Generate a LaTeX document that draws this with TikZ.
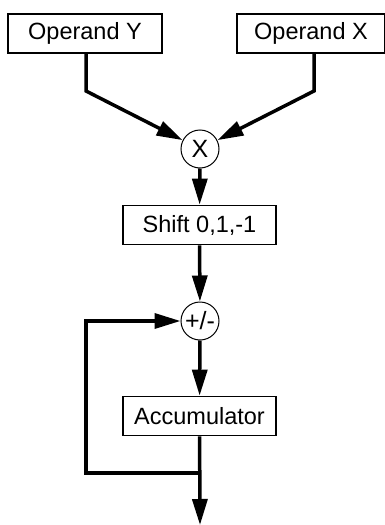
\documentclass[tikz,border=0pt]{standalone}
\usepackage{fontspec}
\setmainfont{Liberation Sans}
\usetikzlibrary{arrows.meta}
\begin{document}
\begin{tikzpicture}[x=1pt,y=-1pt,
  blk/.style={draw,line width=1.8pt,minimum height=39pt,inner sep=0pt,font=\fontsize{23.5}{27}\selectfont},
  op/.style={draw,circle,line width=1pt,minimum size=38pt,inner sep=0pt,font=\fontsize{25}{28}\selectfont},
  wire/.style={line width=3.5pt},
  arr/.style={wire,-{Triangle[length=26pt,width=15pt]}}]
\useasboundingbox (0,0) rectangle (384,525);
\node[blk,minimum width=154pt] (opy) at (85,33.5) {Operand Y};
\node[blk,minimum width=148pt] (opx) at (311,33.5) {Operand X};
\node[op] (mul) at (200,149) {X};
\node[blk,minimum width=153pt] (shift) at (199.5,225) {Shift 0,1,-1};
\node[op] (add) at (200,321) {+/-};
\node[blk,minimum width=153pt] (acc) at (199.5,416) {Accumulator};
\coordinate (yb) at (86,91);
\coordinate (xb) at (314,91);
\coordinate (fb) at (200,473);
\coordinate (out) at (200,525);
\draw[arr] (opy.south -| yb) -- (yb) -- (mul);
\draw[arr] (opx.south -| xb) -- (xb) -- (mul);
\draw[arr] (mul) -- (shift);
\draw[arr] (shift) -- (add);
\draw[arr] (add) -- (acc);
\draw[arr] (acc) -- (out);
\draw[arr] (fb) -- (86,473) -- (86,321) -- (add);
\end{tikzpicture}
\end{document}
